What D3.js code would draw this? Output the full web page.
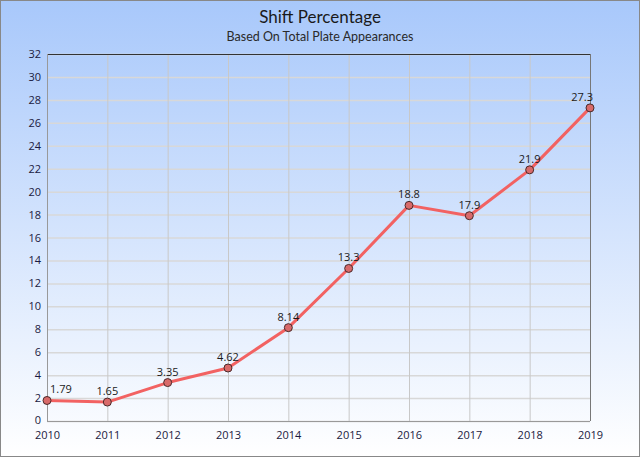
<!DOCTYPE html>
<html>
<head>
<meta charset="utf-8">
<script src="https://cdn.jsdelivr.net/npm/d3@7"></script>
<style>
  body { margin: 0; }
  svg { display: block; font-family: "Open Sans", sans-serif; }
</style>
</head>
<body>
<svg id="chart" width="640" height="457"></svg>
<script>
// data
const years = [2010, 2011, 2012, 2013, 2014, 2015, 2016, 2017, 2018, 2019];
const shiftPct = [1.79, 1.65, 3.35, 4.62, 8.14, 13.3, 18.8, 17.9, 21.9, 27.3];
const yTicks = [0, 2, 4, 6, 8, 10, 12, 14, 16, 18, 20, 22, 24, 26, 28, 30, 32];
const titleText = 'Shift Percentage';
const subtitleText = 'Based On Total Plate Appearances';

const svg = d3.select('#chart');
const width = +svg.attr('width');
const height = +svg.attr('height');

const margin = { top: 54, right: 50, bottom: 36, left: 47 };
const plotW = width - margin.left - margin.right;
const plotH = height - margin.top - margin.bottom;

// background gradient
const defs = svg.append('defs');
const grad = defs.append('linearGradient')
    .attr('id', 'bg').attr('x1', 0).attr('y1', 0).attr('x2', 0).attr('y2', 1);
grad.append('stop').attr('offset', '0%').attr('stop-color', '#a8c8fb');
grad.append('stop').attr('offset', '100%').attr('stop-color', '#ffffff');

svg.append('rect')
    .attr('x', 0.5).attr('y', 0.5)
    .attr('width', width - 1).attr('height', height - 1)
    .attr('fill', 'url(#bg)')
    .attr('stroke', '#888');

// titles
svg.append('text')
    .attr('x', width / 2).attr('y', 23)
    .attr('text-anchor', 'middle')
    .attr('font-family', 'Lato, sans-serif')
    .attr('font-size', 17)
    .attr('fill', '#1a1a1a')
    .text(titleText);
svg.append('text')
    .attr('x', width / 2).attr('y', 41)
    .attr('text-anchor', 'middle')
    .attr('font-family', 'Lato, sans-serif')
    .attr('font-size', 12.5)
    .attr('fill', '#2a2a2a')
    .text(subtitleText);

// scales
const x = d3.scaleLinear().domain([years[0], years[years.length - 1]]).range([0, plotW]);
const y = d3.scaleLinear().domain([0, 32]).range([plotH, 0]);

const g = svg.append('g').attr('transform', `translate(${margin.left},${margin.top})`);

// gridlines
g.append('g').selectAll('line.h')
    .data(yTicks)
    .join('line')
    .attr('x1', 0).attr('x2', plotW)
    .attr('y1', d => y(d) + 0.5).attr('y2', d => y(d) + 0.5)
    .attr('stroke', '#d8d8d8')
    .attr('stroke-width', 1.5);

g.append('g').selectAll('line.v')
    .data(years)
    .join('line')
    .attr('x1', d => x(d) + 0.5).attr('x2', d => x(d) + 0.5)
    .attr('y1', 0).attr('y2', plotH)
    .attr('stroke', '#c8c8c8');

// frame
g.append('line').attr('x1', 0).attr('x2', plotW).attr('y1', 0.5).attr('y2', 0.5)
    .attr('stroke', '#333');
g.append('line').attr('x1', plotW + 0.5).attr('x2', plotW + 0.5).attr('y1', 0).attr('y2', plotH)
    .attr('stroke', '#777');
g.append('line').attr('x1', 0.5).attr('x2', 0.5).attr('y1', 0).attr('y2', plotH)
    .attr('stroke', '#999');
g.append('line').attr('x1', 0).attr('x2', plotW).attr('y1', plotH + 0.5).attr('y2', plotH + 0.5)
    .attr('stroke', '#999');

// axes labels
const yAxis = d3.axisLeft(y).tickValues(yTicks).tickSize(0).tickPadding(6);
g.append('g').call(yAxis)
    .call(s => s.select('.domain').remove())
    .call(s => s.selectAll('text').attr('font-size', 11).attr('fill', '#1a1a40')
        .attr('font-family', '"Open Sans", sans-serif')
        .attr('dy', d => d === 0 ? '0.2em' : '0.32em'));

const xAxis = d3.axisBottom(x).tickValues(years).tickFormat(d3.format('d')).tickSize(0).tickPadding(10);
g.append('g').attr('transform', `translate(0,${plotH})`).call(xAxis)
    .call(s => s.select('.domain').remove())
    .call(s => s.selectAll('text').attr('font-size', 11).attr('fill', '#1a1a40')
        .attr('font-family', '"Open Sans", sans-serif'));

// line
const line = d3.line().x((d, i) => x(years[i])).y(d => y(d));
g.append('path')
    .datum(shiftPct)
    .attr('fill', 'none')
    .attr('stroke', '#f26262')
    .attr('stroke-width', 3)
    .attr('stroke-linejoin', 'round')
    .attr('d', line);

// markers
g.append('g').selectAll('circle')
    .data(shiftPct)
    .join('circle')
    .attr('cx', (d, i) => x(years[i]))
    .attr('cy', d => y(d))
    .attr('r', 4)
    .attr('fill', '#d86a6a')
    .attr('stroke', '#4a2a2a')
    .attr('stroke-width', 1);

// value labels
g.append('g').selectAll('text')
    .data(shiftPct)
    .join('text')
    .attr('x', (d, i) => x(years[i]))
    .attr('y', d => y(d) - 7)
    .attr('text-anchor', (d, i) => i === 0 ? 'start' : (i === years.length - 1 ? 'end' : 'middle'))
    .attr('dx', (d, i) => i === 0 ? 3 : (i === years.length - 1 ? 3 : 0))
    .attr('font-size', 11)
    .attr('fill', '#1a1a1a')
    .text(d => d);
</script>
</body>
</html>
